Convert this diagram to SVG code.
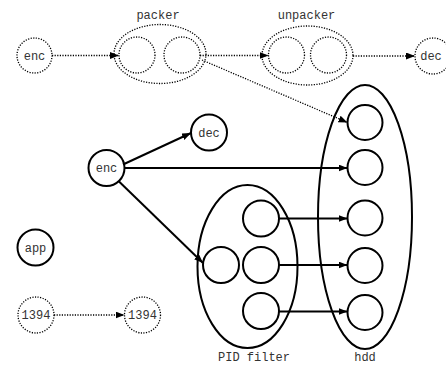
<svg xmlns="http://www.w3.org/2000/svg" width="446" height="365" viewBox="0 0 446 365">
  <style>
    .solid { fill: none; stroke: #000; stroke-width: 2; }
    .dot { fill: none; stroke: #000; stroke-width: 1.3; stroke-dasharray: 1.2 1.4; }
    .e-solid { fill: none; stroke: #000; stroke-width: 2; marker-end: url(#arr); }
    .e-dot { fill: none; stroke: #000; stroke-width: 1.3; stroke-dasharray: 1.2 1.4; marker-end: url(#arr); }
    text { font-size: 12px; fill: #333; text-anchor: middle; }
  </style>
  <defs>
    <marker id="arr" markerUnits="userSpaceOnUse" markerWidth="10" markerHeight="8" refX="9" refY="3.5" orient="auto">
      <path d="M0,0 L9,3.5 L0,7 z" fill="#000"/>
    </marker>
  </defs>

  <rect width="446" height="365" fill="#fff"/>

  <g font-family="Liberation Mono, Courier New, DejaVu Sans Mono, monospace">
  <!-- top row: dotted pipeline -->
  <g id="enc-top">
    <circle class="dot" cx="34.5" cy="55.5" r="17.5"/>
    <text x="34.5" y="59.5">enc</text>
  </g>
  <g id="packer">
    <ellipse class="dot" cx="160" cy="54" rx="46" ry="29.5"/>
    <circle class="dot" cx="137" cy="55" r="18"/>
    <circle class="dot" cx="182" cy="55" r="18"/>
    <text x="158" y="19">packer</text>
  </g>
  <g id="unpacker">
    <ellipse class="dot" cx="307.5" cy="55.5" rx="45.5" ry="29.5"/>
    <circle class="dot" cx="286.5" cy="55" r="18"/>
    <circle class="dot" cx="328.5" cy="55" r="18"/>
    <text x="306.5" y="19">unpacker</text>
  </g>
  <g id="dec-top">
    <circle class="dot" cx="433" cy="56" r="18"/>
    <text x="431" y="60">dec</text>
  </g>

  <!-- middle -->
  <g id="enc-mid">
    <circle class="solid" cx="106.5" cy="168" r="18"/>
    <text x="106.5" y="172">enc</text>
  </g>
  <g id="dec-mid">
    <circle class="solid" cx="209" cy="132.5" r="18"/>
    <text x="209" y="136.5">dec</text>
  </g>
  <g id="app">
    <circle class="solid" cx="35.5" cy="247.5" r="18"/>
    <text x="35.5" y="251.5">app</text>
  </g>
  <g id="n1394-a">
    <circle class="dot" cx="36" cy="315" r="18"/>
    <text x="36" y="319" font-size="13">1394</text>
  </g>
  <g id="n1394-b">
    <circle class="dot" cx="142.5" cy="315" r="18"/>
    <text x="142.5" y="319" font-size="13">1394</text>
  </g>

  <g id="pid-filter">
    <ellipse class="solid" cx="247.5" cy="266.5" rx="50" ry="81.5"/>
    <circle class="solid" cx="221" cy="265" r="18"/>
    <circle class="solid" cx="261" cy="218.5" r="18"/>
    <circle class="solid" cx="261" cy="265" r="18"/>
    <circle class="solid" cx="261" cy="311" r="18"/>
    <text x="254" y="361">PID filter</text>
  </g>

  <g id="hdd">
    <ellipse class="solid" cx="365" cy="217" rx="47" ry="132"/>
    <circle class="solid" cx="365" cy="122.5" r="17.5"/>
    <circle class="solid" cx="365" cy="167.5" r="17.5"/>
    <circle class="solid" cx="365" cy="218" r="17.5"/>
    <circle class="solid" cx="365" cy="265.5" r="17.5"/>
    <circle class="solid" cx="365" cy="312.5" r="17.5"/>
    <text x="365" y="361">hdd</text>
  </g>
  </g>

  <!-- connectors -->
  <g id="edges">
    <line class="e-dot" x1="52" y1="55.5" x2="119" y2="55.5"/>
    <line class="e-dot" x1="200" y1="55.5" x2="268.5" y2="55.5"/>
    <line class="e-dot" x1="353" y1="56" x2="415" y2="56"/>
    <line class="e-dot" x1="202" y1="60" x2="347.5" y2="122.5"/>
    <line class="e-dot" x1="54" y1="315" x2="124.5" y2="315"/>
    <line class="e-solid" x1="123" y1="164.5" x2="191" y2="133"/>
    <line class="e-solid" x1="124.5" y1="168" x2="347.5" y2="168"/>
    <line class="e-solid" x1="118.5" y1="181" x2="203" y2="263"/>
    <line class="e-solid" x1="279" y1="218.5" x2="347.5" y2="218.5"/>
    <line class="e-solid" x1="279" y1="265" x2="347.5" y2="265"/>
    <line class="e-solid" x1="279" y1="311.5" x2="347.5" y2="311.5"/>
  </g>
</svg>
